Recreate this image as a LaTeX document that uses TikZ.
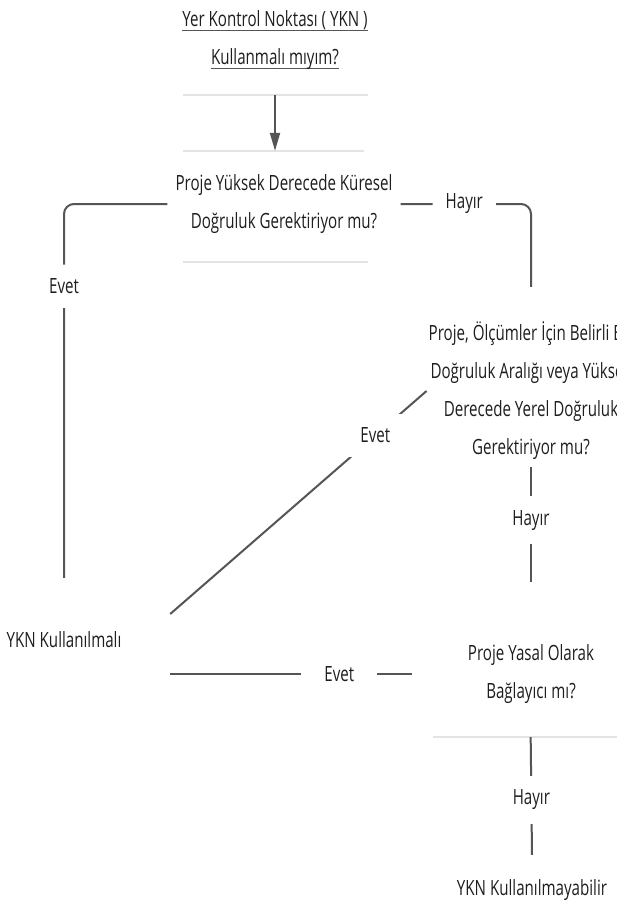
\documentclass[tikz,border=0pt]{standalone}
\usepackage{fontspec}
\setmainfont{Open Sans}[FakeStretch=0.72]
\usetikzlibrary{arrows.meta}
\definecolor{ink}{HTML}{1E1E1E}
\definecolor{linkgray}{HTML}{555555}
\definecolor{boxgray}{HTML}{E4E4E4}
\tikzset{>={Triangle[length=18pt,width=10pt]}}
\newcommand\ulin[1]{\setbox0\hbox{#1}\rlap{\textcolor{linkgray}{\rule[-5pt]{\wd0}{1.6pt}}}\box0}

\begin{document}
\begin{tikzpicture}[x=1pt,y=-1pt,
    every node/.style={font=\fontsize{21}{38}\selectfont,text=ink,align=center,inner sep=0pt},
    link/.style={draw=linkgray,line width=2pt},
    lbl/.style={fill=white,inner xsep=13pt,inner ysep=14pt},
    faint/.style={draw=boxgray,line width=1.5pt}]
    \path [fill=white,use as bounding box] (0,0) rectangle (617,911);
    \clip (0,0) rectangle (617,911);

    % Boxes
    \draw [faint] (183,95) -- (368,95);
    \draw [faint] (183,151) -- (364,151);
    \draw [faint] (183,262) -- (368,262);
    \draw [faint] (433,737) -- (617,737);

    % Questions and answers
    \node (title) at (275,40) [minimum height=110pt] {\ulin{Yer Kontrol Noktası ( YKN )}\\\ulin{Kullanmalı mıyım?}};
    \node (glob) at (284,204) [minimum width=233pt,minimum height=106pt] {Proje Yüksek Derecede Küresel\\Doğruluk Gerektiriyor mu?};
    \node (local) at (531,391) [minimum height=208pt,inner xsep=2pt] {Proje, Ölçümler İçin Belirli Bir\\Doğruluk Aralığı veya Yüksek\\Derecede Yerel Doğruluk\\Gerektiriyor mu?};
    \node (legal) at (531,674) [minimum width=238pt,minimum height=184pt] {Proje Yasal Olarak\\Bağlayıcı mı?};
    \node (use) at (64,640) [minimum width=212pt,minimum height=124pt] {YKN Kullanılmalı};
    \node (nouse) at (532,890) [minimum height=70pt] {YKN Kullanılmayabilir};

    % Links
    \draw [link,->] (title.south) -- (title.south |- glob.north);
    \draw [link,rounded corners=10pt] (glob.west) -| node[lbl,pos=0.61] {Evet} (use.north);
    \draw [link,rounded corners=10pt] (glob.east) -| node[lbl,pos=0.244] {Hayır} (local.north);
    \draw [link,shorten <=-28pt] (local.south) -- node[lbl,pos=0.29] {Hayır} (legal.north);
    \draw [link] (local.west) -- node[lbl,pos=0.2] {Evet} ([yshift=26pt]use.east);
    \draw [link] (legal.west) -- node[lbl,pos=0.3,inner xsep=23pt] {Evet} (legal.west -| use.east);
    \draw [link,shorten <=-29pt] (legal.south) -- node[lbl,pos=0.38] {Hayır} (nouse.north);
\end{tikzpicture}
\end{document}
